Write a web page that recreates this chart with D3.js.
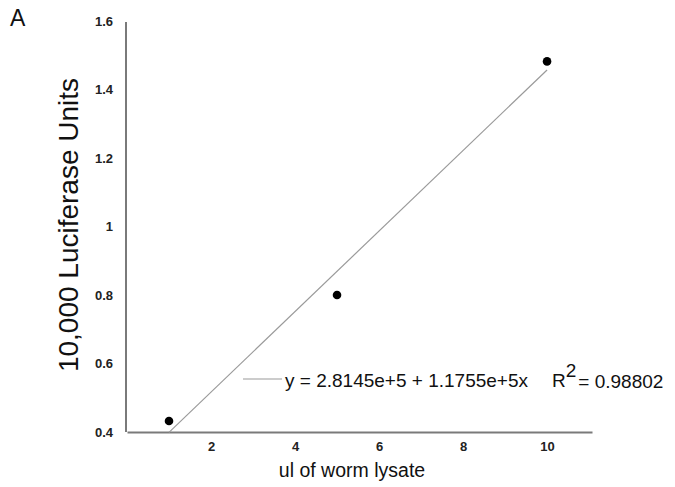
<!DOCTYPE html>
<html><head><meta charset="utf-8">
<script src="https://cdn.jsdelivr.net/npm/d3@7"></script>
<style>body{margin:0;background:#fff}svg{display:block}text{font-family:"Liberation Sans",Arial,sans-serif}</style>
</head><body>
<script>
const xValues = [1, 5, 10];
const yValues = [0.432, 0.80, 1.482];
const xTicks = [2, 4, 6, 8, 10];
const yTicks = [0.4, 0.6, 0.8, 1, 1.2, 1.4, 1.6];
const fitIntercept = 0.28145, fitSlope = 0.11755;
const fitRange = [1, 10];
const eqText = "y = 2.8145e+5 + 1.1755e+5x";
const r2Text = "= 0.98802";

const W = 675, H = 487;
const svg = d3.select("body").append("svg").attr("width", W).attr("height", H);
const x = d3.scaleLinear().domain([0, 11.07]).range([127, 592]);
const y = d3.scaleLinear().domain([0.4, 1.6]).range([432, 21]);

// axes
const xa = svg.append("g").attr("transform", "translate(0,432)")
  .call(d3.axisBottom(x).tickValues(xTicks).tickSize(0).tickPadding(10).tickFormat(d3.format("d")));
const ya = svg.append("g").attr("transform", "translate(126,0)")
  .call(d3.axisLeft(y).tickValues(yTicks).tickSize(0).tickPadding(13).tickFormat(d => String(d)));
[xa, ya].forEach(g => {
  g.select(".domain").attr("stroke", "#7a7a7a").attr("stroke-width", 2);
  g.selectAll("text").attr("font-size", 13).attr("font-weight", "bold").attr("fill", "#222")
    .attr("font-family", "Liberation Sans, Arial, sans-serif");
});
ya.select(".domain").attr("d", `M0,${y(1.6) + 1}V${y(0.4)}`);

// fit line
svg.append("line")
  .attr("x1", x(fitRange[0])).attr("y1", y(fitIntercept + fitSlope * fitRange[0]))
  .attr("x2", x(fitRange[1])).attr("y2", y(fitIntercept + fitSlope * fitRange[1]))
  .attr("stroke", "#9a9a9a").attr("stroke-width", 1.2);

// points
svg.selectAll("circle.pt").data(xValues.map((v, i) => [v, yValues[i]])).enter()
  .append("circle").attr("cx", d => x(d[0])).attr("cy", d => y(d[1])).attr("r", 4.3).attr("fill", "#000");

// legend
svg.append("line").attr("x1", 243).attr("x2", 282).attr("y1", 379).attr("y2", 379)
  .attr("stroke", "#9a9a9a").attr("stroke-width", 1.2);
const t = svg.append("text").attr("x", 285).attr("y", 387).attr("font-size", 19).attr("fill", "#111");
t.append("tspan").text(eqText);
t.append("tspan").attr("dx", 24).text("R");
t.append("tspan").attr("dy", -10).attr("font-size", 19).text("2");
t.append("tspan").attr("dx", 2).attr("dy", 11).attr("font-size", 19).text(r2Text);

// labels
svg.append("text").attr("x", 352).attr("y", 477).attr("text-anchor", "middle").attr("font-size", 19.5)
  .attr("fill", "#111").text("ul of worm lysate");
svg.append("text").attr("transform", "translate(78,225) rotate(-90)").attr("text-anchor", "middle")
  .attr("font-size", 28).attr("fill", "#111").text("10,000 Luciferase Units");
svg.append("text").attr("x", 10).attr("y", 26).attr("font-size", 23).attr("fill", "#111").text("A");
</script>
</body></html>
